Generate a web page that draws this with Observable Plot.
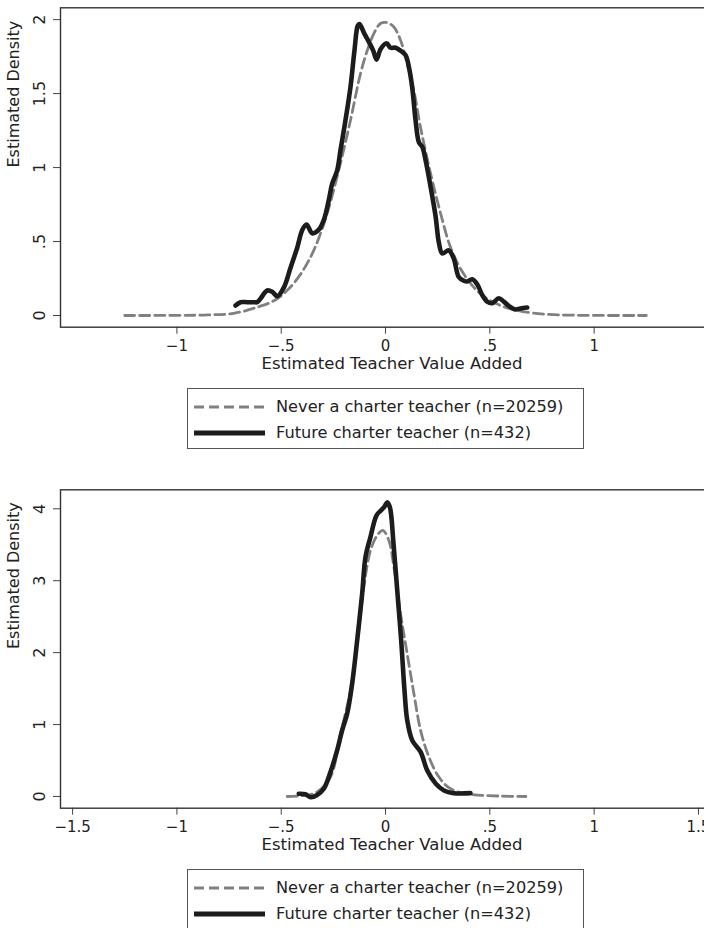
<!DOCTYPE html>
<html>
<head>
<meta charset="utf-8">
<script src="https://cdn.jsdelivr.net/npm/d3@7"></script>
<script src="https://cdn.jsdelivr.net/npm/@observablehq/plot@0.6"></script>
<style>
  html, body { margin: 0; padding: 0; background: #fff; overflow: hidden; }
  #wrap { position: relative; width: 704px; height: 928px; overflow: hidden; font-family: "DejaVu Sans", sans-serif; color: #222; background: #fff; }
  .panel { position: absolute; left: 0; max-width: none !important; width: 725px !important; height: 380px !important; }
  .legend { position: absolute; left: 187px; width: 397px; height: 61px; border: 1.5px solid #555; box-sizing: border-box; background: #fff; }
  .row { position: absolute; left: 0; width: 100%; height: 24px; }
  .row svg { position: absolute; left: 5px; top: 7px; }
  .row span { position: absolute; left: 88px; top: 0; line-height: 24px; font-size: 16.2px; white-space: nowrap; color: #222; }
</style>
</head>
<body>
<div id="wrap"></div>
<script>
// ---------- Data ----------
const xTitle = "Estimated Teacher Value Added";
const yTitle = "Estimated Density";
const seriesNames = ["Never a charter teacher (n=20259)", "Future charter teacher (n=432)"];

// Top panel
const topNeverX = [-1.25, -1.0, -0.85, -0.727, -0.615, -0.535, -0.471, -0.407, -0.344, -0.28, -0.216, -0.168, -0.12, -0.088, -0.056, -0.024, 0.008, 0.04, 0.072, 0.104, 0.136, 0.168, 0.216, 0.264, 0.312, 0.375, 0.455, 0.551, 0.647, 0.775, 0.9, 1.25];
const topNeverY = [0, 0.001, 0.004, 0.015, 0.056, 0.10, 0.17, 0.28, 0.44, 0.69, 1.03, 1.32, 1.635, 1.79, 1.906, 1.974, 1.98, 1.95, 1.86, 1.70, 1.52, 1.27, 0.96, 0.69, 0.46, 0.28, 0.147, 0.068, 0.03, 0.008, 0.002, 0];
const topFutureX = [-0.719, -0.695, -0.663, -0.63, -0.615, -0.6, -0.567, -0.543, -0.519, -0.487, -0.455, -0.423, -0.4, -0.379, -0.351, -0.32, -0.296, -0.272, -0.256, -0.232, -0.216, -0.192, -0.168, -0.149, -0.133, -0.125, -0.101, -0.08, -0.059, -0.043, -0.024, 0.005, 0.024, 0.048, 0.072, 0.096, 0.112, 0.128, 0.144, 0.16, 0.176, 0.192, 0.216, 0.24, 0.256, 0.272, 0.303, 0.327, 0.351, 0.375, 0.391, 0.415, 0.44, 0.463, 0.487, 0.511, 0.543, 0.567, 0.591, 0.623, 0.647, 0.679];
const topFutureY = [0.068, 0.09, 0.09, 0.09, 0.09, 0.113, 0.169, 0.16, 0.13, 0.19, 0.325, 0.46, 0.575, 0.615, 0.556, 0.58, 0.645, 0.78, 0.89, 0.98, 1.116, 1.32, 1.545, 1.79, 1.96, 1.97, 1.904, 1.85, 1.79, 1.73, 1.80, 1.84, 1.81, 1.81, 1.79, 1.76, 1.68, 1.54, 1.32, 1.17, 1.14, 1.05, 0.87, 0.67, 0.49, 0.42, 0.44, 0.385, 0.26, 0.235, 0.23, 0.245, 0.21, 0.14, 0.094, 0.083, 0.117, 0.094, 0.065, 0.041, 0.048, 0.054];

// Bottom panel
const botNeverX = [-0.471, -0.4, -0.33, -0.264, -0.216, -0.168, -0.136, -0.104, -0.072, -0.04, -0.013, 0.016, 0.04, 0.072, 0.104, 0.136, 0.168, 0.208, 0.256, 0.312, 0.392, 0.55, 0.673];
const botNeverY = [0, 0.01, 0.06, 0.27, 0.87, 1.47, 2.12, 2.91, 3.42, 3.63, 3.70, 3.56, 3.19, 2.54, 1.98, 1.43, 0.92, 0.55, 0.27, 0.107, 0.037, 0.005, 0];
const botFutureX = [-0.416, -0.384, -0.36, -0.328, -0.296, -0.264, -0.232, -0.208, -0.184, -0.16, -0.136, -0.112, -0.096, -0.072, -0.043, -0.021, -0.005, 0.008, 0.021, 0.037, 0.056, 0.075, 0.091, 0.104, 0.128, 0.168, 0.2, 0.24, 0.28, 0.327, 0.407];
const botFutureY = [0.037, 0.03, -0.01, 0.02, 0.107, 0.34, 0.64, 0.92, 1.15, 1.57, 2.17, 2.82, 3.33, 3.61, 3.91, 3.98, 4.03, 4.09, 4.02, 3.56, 2.87, 2.17, 1.47, 1.06, 0.78, 0.62, 0.36, 0.18, 0.083, 0.046, 0.046];

// Ticks
const topXTicks = [-1, -0.5, 0, 0.5, 1];
const topXLabels = ["\u22121", "\u2212.5", "0", ".5", "1"];
const topYTicks = [0, 0.5, 1, 1.5, 2];
const topYLabels = ["0", ".5", "1", "1.5", "2"];
const botXTicks = [-1.5, -1, -0.5, 0, 0.5, 1, 1.5];
const botXLabels = ["\u22121.5", "\u22121", "\u2212.5", "0", ".5", "1", "1.5"];
const botYTicks = [0, 1, 2, 3, 4];
const botYLabels = ["0", "1", "2", "3", "4"];

// ---------- Build ----------
const toRows = (xs, ys) => xs.map((x, i) => ({x, y: ys[i]}));
const NEVER_COLOR = "#808080";
const FUTURE_COLOR = "#1c1c1c";

function panel({never, future, xTicks, xLabels, yTicks, yLabels, yDomain, height, marginTop, marginBottom}) {
  return Plot.plot({
    width: 725,
    height,
    marginLeft: 60,
    marginRight: 2,
    marginTop,
    marginBottom,
    x: {domain: [-1.558, 1.62]},
    y: {domain: yDomain},
    style: {fontFamily: "DejaVu Sans, sans-serif", fontSize: "15px", color: "#222", background: "#fff", maxWidth: "none"},
    marks: [
      Plot.axisX(xTicks, {tickFormat: d => xLabels[xTicks.indexOf(d)], tickSize: 7, tickPadding: 6, fontSize: 15, label: null, stroke: "#444"}),
      Plot.axisY(yTicks, {tickFormat: d => yLabels[yTicks.indexOf(d)], tickSize: 7, tickRotate: -90, tickPadding: 9, fontSize: 16, label: null, stroke: "#444"}),
      Plot.line(never, {x: "x", y: "y", stroke: NEVER_COLOR, strokeWidth: 2.8, strokeDasharray: "10,5", curve: "catmull-rom"}),
      Plot.line(future, {x: "x", y: "y", stroke: FUTURE_COLOR, strokeWidth: 4.6, curve: "catmull-rom", strokeLinejoin: "round", strokeLinecap: "round"}),
      Plot.frame({stroke: "#333", strokeWidth: 1.4}),
      Plot.text([xTitle], {text: d => d, frameAnchor: "bottom", dy: 42, fontSize: 16.5, fill: "#222"}),
      Plot.text([yTitle], {text: d => d, frameAnchor: "left", dx: -47, rotate: -90, fontSize: 16, fill: "#222"})
    ]
  });
}

function legend(top) {
  const box = document.createElement("div");
  box.className = "legend";
  box.style.top = top + "px";
  const styles = [
    {stroke: NEVER_COLOR, width: 2.8, dash: "10,5"},
    {stroke: FUTURE_COLOR, width: 5, dash: null}
  ];
  seriesNames.forEach((name, i) => {
    const row = document.createElement("div");
    row.className = "row";
    row.style.top = (6 + i * 26) + "px";
    const dashAttr = styles[i].dash ? ` stroke-dasharray="${styles[i].dash}"` : "";
    row.innerHTML = `<svg width="74" height="10"><line x1="1" y1="5" x2="72" y2="5" stroke="${styles[i].stroke}" stroke-width="${styles[i].width}"${dashAttr}/></svg><span>${name}</span>`;
    box.appendChild(row);
  });
  return box;
}

const wrap = document.getElementById("wrap");

const top1 = panel({
  never: toRows(topNeverX, topNeverY),
  future: toRows(topFutureX, topFutureY),
  xTicks: topXTicks, xLabels: topXLabels,
  yTicks: topYTicks, yLabels: topYLabels,
  yDomain: [-0.079, 2.08],
  height: 380, marginTop: 7.3, marginBottom: 53.3
});
top1.classList.add("panel");
top1.style.top = "0px";
wrap.appendChild(top1);
wrap.appendChild(legend(388));

const bot1 = panel({
  never: toRows(botNeverX, botNeverY),
  future: toRows(botFutureX, botFutureY),
  xTicks: botXTicks, xLabels: botXLabels,
  yTicks: botYTicks, yLabels: botYLabels,
  yDomain: [-0.163, 4.264],
  height: 380, marginTop: 9.3, marginBottom: 52.3
});
bot1.classList.add("panel");
bot1.style.top = "480px";
wrap.appendChild(bot1);
wrap.appendChild(legend(869));
</script>
</body>
</html>
